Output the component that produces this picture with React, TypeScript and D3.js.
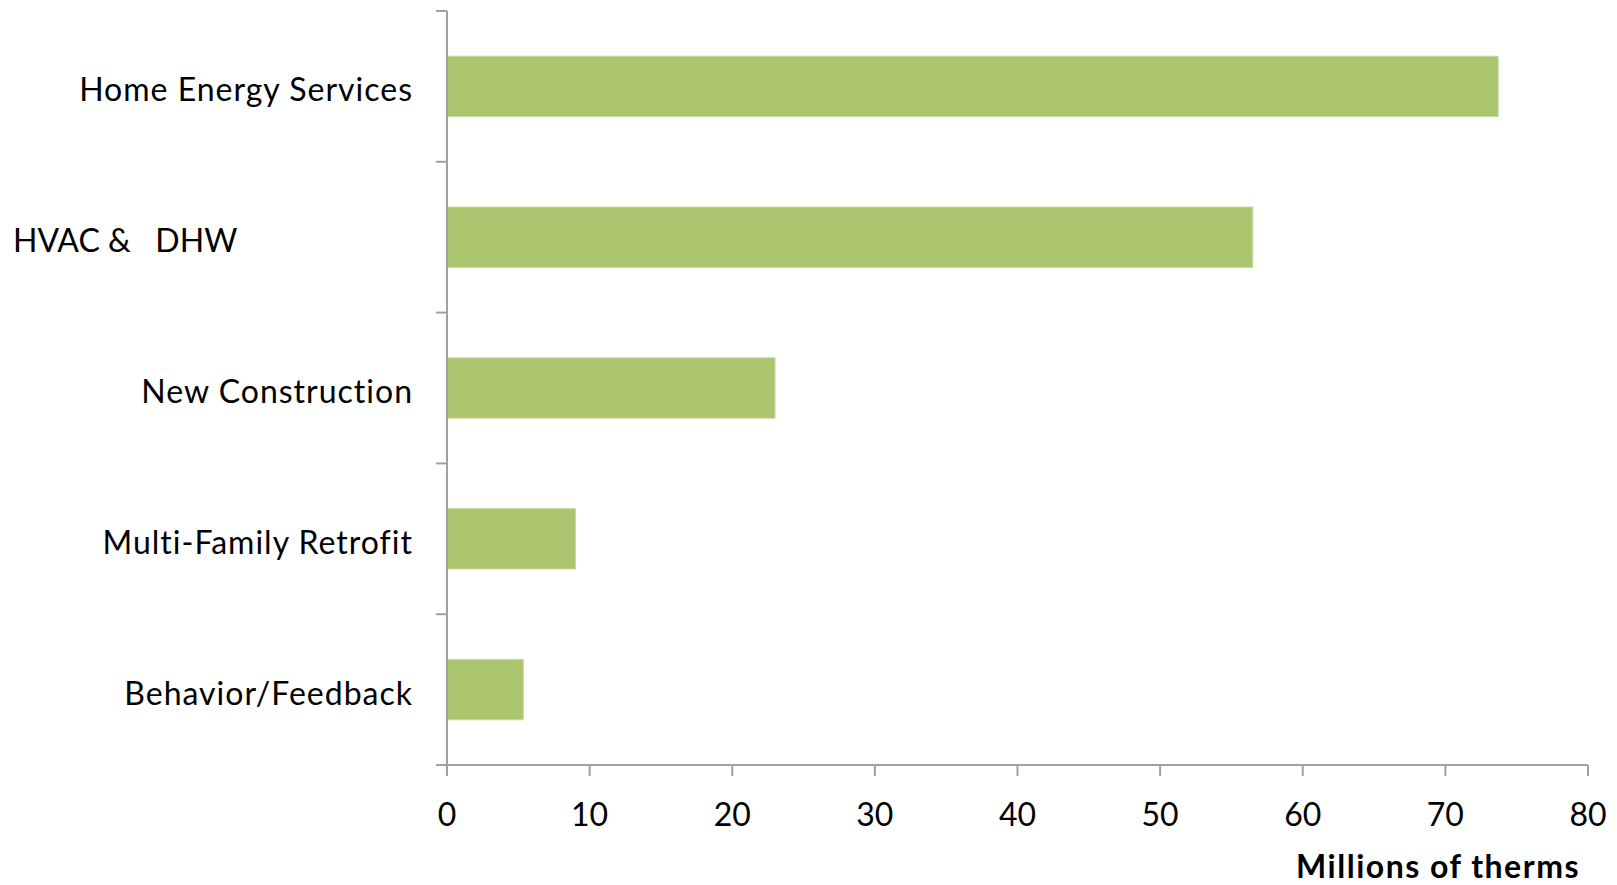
import React from "react";
import * as d3 from "d3";

const categories = [
  "Home Energy Services",
  "HVAC &   DHW",
  "New Construction",
  "Multi-Family Retrofit",
  "Behavior/Feedback",
];
const values = [73.7, 56.5, 23.0, 9.0, 5.35];
const xTicks = [0, 10, 20, 30, 40, 50, 60, 70, 80];
const xTitle = "Millions of therms";

const W = 1617;
const H = 885;
const left = 447;
const right = 1588;
const top = 11;
const bottom = 765;
const FONT = "Lato, 'Open Sans', sans-serif";
const AXIS = "#A0A0A0";

export default function App() {
  const x = d3.scaleLinear().domain([0, 80]).range([left, right]);
  const y = d3
    .scaleBand<string>()
    .domain(categories)
    .range([top, bottom])
    .paddingInner(0.6)
    .paddingOuter(0.3);
  const yb = d3.scaleBand<string>().domain(categories).range([top, bottom]);
  const boundaries = d3.range(categories.length + 1).map((i) => top + i * yb.step());

  return (
    <svg
      width={W}
      height={H}
      style={{ position: "absolute", left: 0, top: 0, background: "#fff" }}
      fontFamily={FONT}
    >
      {categories.map((c, i) => (
        <rect
          key={c}
          x={x(0)}
          y={y(c)!}
          width={x(values[i]) - x(0)}
          height={y.bandwidth()}
          fill="#ABC46E"
          stroke="#C6D99C"
          strokeWidth={1}
        />
      ))}
      {/* y axis */}
      <line x1={left} x2={left} y1={top} y2={bottom} stroke={AXIS} strokeWidth={2} />
      {boundaries.map((b, i) => (
        <line key={i} x1={left - 11} x2={left} y1={b} y2={b} stroke={AXIS} strokeWidth={2} />
      ))}
      {/* x axis */}
      <line x1={left - 11} x2={right} y1={bottom} y2={bottom} stroke={AXIS} strokeWidth={2} />
      {xTicks.map((t) => (
        <g key={t}>
          <line x1={x(t)} x2={x(t)} y1={bottom} y2={bottom + 11} stroke={AXIS} strokeWidth={2} />
          <text x={x(t)} y={826} textAnchor="middle" fontSize={32} fill="#000">
            {t}
          </text>
        </g>
      ))}
      {categories.map((c, i) => {
        const cy = yb(c)! + yb.bandwidth() / 2 + 15;
        const isHvac = i === 1;
        return (
          <text
            key={c}
            x={isHvac ? 13 : 413}
            y={cy}
            textAnchor={isHvac ? "start" : "end"}
            fontSize={32}
            fill="#000"
            letterSpacing={isHvac ? 0 : 1}
            style={{ whiteSpace: "pre" }}
          >
            {c}
          </text>
        );
      })}
      <text
        x={1580}
        y={878}
        textAnchor="end"
        fontSize={32}
        fontWeight="bold"
        letterSpacing={1.5}
        fill="#000"
      >
        {xTitle}
      </text>
    </svg>
  );
}
